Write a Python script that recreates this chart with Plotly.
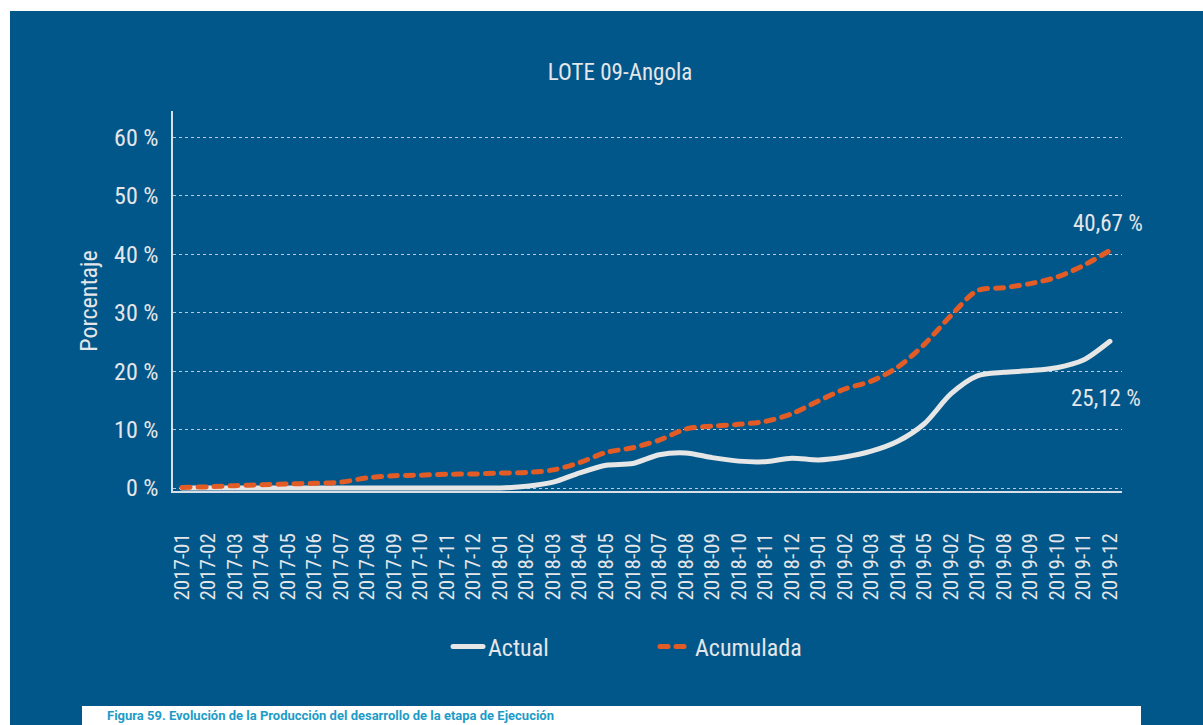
import plotly.graph_objects as go

# Month labels as printed on the axis (two labels repeat in the source series)
meses = [
    "2017-01", "2017-02", "2017-03", "2017-04", "2017-05", "2017-06",
    "2017-07", "2017-08", "2017-09", "2017-10", "2017-11", "2017-12",
    "2018-01", "2018-02", "2018-03", "2018-04", "2018-05", "2018-02",
    "2018-07", "2018-08", "2018-09", "2018-10", "2018-11", "2018-12",
    "2019-01", "2019-02", "2019-03", "2019-04", "2019-05", "2019-02",
    "2019-07", "2019-08", "2019-09", "2019-10", "2019-11", "2019-12",
]

# Percentages per month
actual = [
    0, 0, 0, 0, 0, 0, 0, 0, 0, 0, 0, 0,
    0, 0.3, 1.0, 2.6, 3.9, 4.2, 5.7, 6.0, 5.2, 4.6, 4.5, 5.1,
    4.8, 5.3, 6.3, 8.0, 11.0, 16.1, 19.2, 19.8, 20.1, 20.6, 21.9, 25.12,
]
acumulada = [
    0.1, 0.2, 0.4, 0.55, 0.7, 0.8, 1.0, 1.75, 2.1, 2.2, 2.35, 2.4,
    2.55, 2.65, 3.1, 4.35, 6.1, 6.9, 8.2, 10.1, 10.6, 10.9, 11.4, 12.7,
    14.9, 16.95, 18.3, 20.7, 24.6, 29.5, 33.8, 34.3, 35.0, 36.1, 38.1, 40.67,
]

y_ticks = [0, 10, 20, 30, 40, 50, 60]
y_tick_text = ["0 %", "10 %", "20 %", "30 %", "40 %", "50 %", "60 %"]

BLUE = "#02578A"
ORANGE = "#E35C25"
LINE_WHITE = "#E6E6E6"
TEXT = "#E4E6E9"
FONT = "Liberation Sans Narrow, Roboto Condensed, Roboto, sans-serif"

x = list(range(len(meses)))

fig = go.Figure()
fig.add_trace(go.Scatter(
    x=x, y=actual, name="Actual", mode="lines",
    line=dict(color=LINE_WHITE, width=5, shape="spline", smoothing=0.8),
))
fig.add_trace(go.Scatter(
    x=x, y=acumulada, name="Acumulada", mode="lines",
    line=dict(color=ORANGE, width=5, dash="8px,8px", shape="spline", smoothing=0.8),
))

# End-of-series value labels
fig.add_annotation(x=x[-1], y=acumulada[-1], xref="x", yref="y",
                   text="40,67 %", showarrow=False, yshift=27, xshift=-2,
                   font=dict(family=FONT, size=23, color=TEXT))
fig.add_annotation(x=x[-1], y=actual[-1], xref="x", yref="y",
                   text="25,12 %", showarrow=False, yshift=-57, xshift=-4,
                   font=dict(family=FONT, size=23, color=TEXT))

# Figure caption strip below the chart
fig.add_annotation(x=-0.0717, y=-0.5908, xref="paper", yref="paper",
                   xanchor="left", yanchor="middle", showarrow=False,
                   text="<b>Figura 59. Evolución de la Producción del desarrollo de la etapa de Ejecución</b>",
                   font=dict(family="Roboto, sans-serif", size=13, color="#1E9CC8"))

# White page margins and caption box
fig.add_shape(type="rect", xref="paper", yref="paper", x0=-0.2, x1=1.2,
              y0=1.2632, y1=1.4, fillcolor="white", line_width=0, layer="above")
fig.add_shape(type="rect", xref="paper", yref="paper", x0=-0.2, x1=-0.17176,
              y0=-0.7, y1=1.4, fillcolor="white", line_width=0, layer="above")
fig.add_shape(type="rect", xref="paper", yref="paper", x0=-0.09589, x1=1.02002,
              y0=-0.7, y1=-0.5658, fillcolor="white", line_width=0, layer="below")

fig.update_layout(
    width=1203, height=725,
    margin=dict(l=173, r=81, t=111, b=234),
    paper_bgcolor=BLUE, plot_bgcolor=BLUE,
    font=dict(family=FONT, color=TEXT),
    title=dict(text="LOTE 09-Angola", x=0.5154, xref="container", xanchor="center",
               y=1 - 72 / 725, yref="container", yanchor="middle",
               font=dict(family=FONT, size=23, color=TEXT)),
    showlegend=True,
    legend=dict(orientation="h", x=0.2898, xanchor="left", y=-0.4105, yanchor="middle",
                yref="paper", bgcolor="rgba(0,0,0,0)", font=dict(family=FONT, size=24, color=TEXT),
                entrywidth=162, itemwidth=30, tracegroupgap=0),
)

fig.update_xaxes(
    range=[-0.34, 35.456], tickmode="array", tickvals=x, ticktext=meses,
    tickangle=-90, tickfont=dict(family=FONT, size=21, color=TEXT),
    showgrid=False, zeroline=False, showline=True, linecolor="#D9DFE6", linewidth=1.5,
    ticks="", ticklabelstandoff=32,
)
fig.update_yaxes(
    range=[-0.514, 64.55], tickmode="array", tickvals=y_ticks, ticktext=y_tick_text,
    tickfont=dict(family=FONT, size=24, color=TEXT),
    showgrid=True, gridcolor="rgba(215,222,230,0.85)", gridwidth=1, griddash="dot",
    zeroline=False, showline=True, linecolor="#D9DFE6", linewidth=1.5, ticks="",
    ticklabelstandoff=8,
    title=dict(text="Porcentaje", standoff=10, font=dict(family=FONT, size=24, color=TEXT)),
)

round_caps = (
    "var s=document.createElement('style');"
    "s.textContent='.js-line,.legendlines path{stroke-linecap:round;stroke-linejoin:round}';"
    "document.head.appendChild(s);"
)
fig.write_html("out.html", post_script=round_caps)
